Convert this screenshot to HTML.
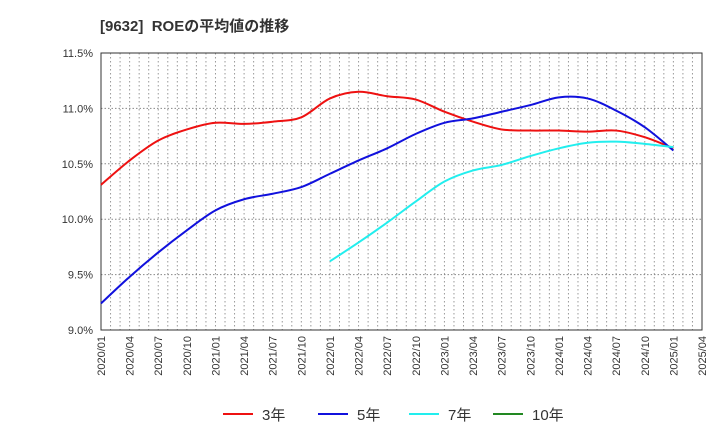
<!DOCTYPE html>
<html><head><meta charset="utf-8"><style>
body{margin:0;background:#fff;font-family:"Liberation Sans","Noto Sans CJK JP",sans-serif;}
</style></head><body>
<svg id="c" width="720" height="440" xmlns="http://www.w3.org/2000/svg">
<text x="100" y="31" font-size="15" font-weight="bold" fill="#333">[9632]&#160; ROEの平均値の推移</text>
<g id="grid"></g><g id="axes"></g><g id="series"></g><g id="legend"></g>
</svg>
<script>
const yTicks=[9.0,9.5,10.0,10.5,11.0,11.5];
const xTickLabels=["2020/01","2020/04","2020/07","2020/10","2021/01","2021/04","2021/07","2021/10","2022/01","2022/04","2022/07","2022/10","2023/01","2023/04","2023/07","2023/10","2024/01","2024/04","2024/07","2024/10","2025/01","2025/04"];
const s3=[10.31,10.53,10.71,10.81,10.87,10.86,10.88,10.92,11.09,11.15,11.11,11.08,10.97,10.88,10.81,10.80,10.80,10.79,10.80,10.74,10.64];
const s5=[9.24,9.48,9.70,9.90,10.08,10.18,10.23,10.29,10.41,10.53,10.64,10.77,10.87,10.91,10.97,11.03,11.10,11.09,10.98,10.83,10.62];
const s7=[9.62,9.79,9.97,10.16,10.34,10.44,10.49,10.57,10.64,10.69,10.70,10.68,10.65];
const s7Start=8;
const L=101,R=702,T=53,B=330;
const NS="http://www.w3.org/2000/svg";
const xm=m=>L+(R-L)*m/63;
const y=v=>B-(v-9)/2.5*(B-T);
function mk(tag,at,parent){const e=document.createElementNS(NS,tag);for(const k in at)e.setAttribute(k,at[k]);document.getElementById(parent).appendChild(e);return e;}
for(let m=1;m<63;m++){const l=mk('line',{x1:xm(m),x2:xm(m),y1:T,y2:B,stroke:'#999','stroke-dasharray':'1.5,2.5','stroke-width':1},'grid');

}
yTicks.forEach(v=>{if(v>9&&v<11.5){const l=mk('line',{x1:L,x2:R,y1:y(v),y2:y(v),stroke:'#888','stroke-dasharray':'1.5,2','stroke-width':1},'grid');

}
const t=mk('text',{x:L-8,y:y(v)+4,'text-anchor':'end','font-size':11,fill:'#333'},'axes');t.textContent=v.toFixed(1)+'%';

});
const fr=mk('rect',{x:L,y:T,width:R-L,height:B-T,fill:'none',stroke:'#333','stroke-width':1},'axes');


xTickLabels.forEach((s,i)=>{const x=xm(i*3);const t=mk('text',{transform:`translate(${x+4},${B+6}) rotate(-90)`,'text-anchor':'end','font-size':11,fill:'#333'},'axes');t.textContent=s;

});
function path(vals,start){const p=vals.map((v,i)=>[xm((start+i)*3),y(v)]);let d=`M${p[0][0]},${p[0][1]}`;
for(let i=0;i<p.length-1;i++){const p0=p[i-1]||p[i],p1=p[i],p2=p[i+1],p3=p[i+2]||p2;
d+=`C${p1[0]+(p2[0]-p0[0])/6},${p1[1]+(p2[1]-p0[1])/6} ${p2[0]-(p3[0]-p1[0])/6},${p2[1]-(p3[1]-p1[1])/6} ${p2[0]},${p2[1]}`;}return d;}
[[s3,0,'#ee1111','series-3yr'],[s5,0,'#1111dd','series-5yr'],[s7,s7Start,'#22eeee','series-7yr']].forEach(([v,s,c,n])=>{
const e=mk('path',{d:path(v,s),fill:'none',stroke:c,'stroke-width':2},'series');

});
[['3年','#ee1111',223],['5年','#1111dd',318],['7年','#22eeee',409],['10年','#228822',493]].forEach(([s,c,x])=>{
const l=mk('line',{x1:x,x2:x+30,y1:414,y2:414,stroke:c,'stroke-width':2},'legend');


const t=mk('text',{x:x+39,y:420,'font-size':15,fill:'#333'},'legend');t.textContent=s;

});
</script>
</body></html>
